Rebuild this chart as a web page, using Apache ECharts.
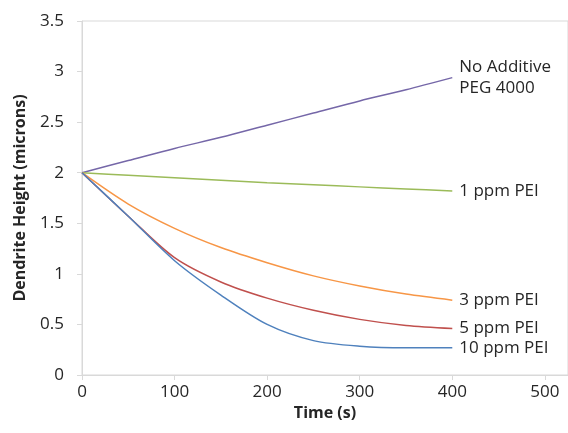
<!DOCTYPE html>
<html>
<head>
<meta charset="utf-8">
<script src="https://cdn.jsdelivr.net/npm/echarts@6/dist/echarts.min.js"></script>
<style>
  html, body { margin: 0; padding: 0; background: #fff; }
  #chart { width: 568px; height: 433px; }
</style>
</head>
<body>
<div id="chart"></div>
<script>
// time points (s)
var times = [0, 50, 100, 150, 200, 250, 300, 350, 400];
// dendrite heights (microns)
var noAdditive = [2, 2.12, 2.24, 2.35, 2.47, 2.59, 2.71, 2.82, 2.94];
var ppm1 = [2, 1.975, 1.95, 1.925, 1.9, 1.88, 1.86, 1.84, 1.82];
var ppm3 = [2, 1.69, 1.45, 1.26, 1.11, 0.98, 0.88, 0.80, 0.74];
var ppm5 = [2, 1.57, 1.16, 0.92, 0.76, 0.64, 0.55, 0.49, 0.46];
var ppm10 = [2, 1.57, 1.13, 0.79, 0.50, 0.34, 0.285, 0.27, 0.27];
var names = ['No Additive\nPEG 4000', '1 ppm PEI', '3 ppm PEI', '5 ppm PEI', '10 ppm PEI'];
var colors = ['#7567a8', '#9bbb59', '#f79646', '#c0504d', '#4f81bd'];

var pairs = function (vals) {
	var out = [];
	for (var i = 0; i < times.length; i++) {
		out.push([times[i], vals[i]]);
	}
	return out;
};

var allData = [noAdditive, ppm1, ppm3, ppm5, ppm10];
var series = [];
for (var s = 0; s < allData.length; s++) {
	series.push({
		name: names[s],
		type: 'line',
		smooth: 0.3,
		symbol: 'none',
		data: pairs(allData[s]),
		lineStyle: { color: colors[s], width: 1.5 },
		itemStyle: { color: colors[s] },
		endLabel: {
			show: true,
			formatter: names[s],
			color: '#262626',
			fontSize: 17,
			fontFamily: 'Open Sans',
			lineHeight: 21,
			distance: 7
		}
	});
}

var chart = echarts.init(document.getElementById('chart'));
chart.setOption({
	animation: false,
	textStyle: { fontFamily: 'Open Sans' },
	grid: {
		left: 82, right: 0, top: 21, bottom: 58,
		show: true, borderColor: '#d9d9d9', borderWidth: 1
	},
	xAxis: {
		type: 'value',
		min: 0, max: 525, interval: 100,
		name: 'Time (s)',
		nameLocation: 'middle',
		nameGap: 24,
		nameTextStyle: { fontSize: 16, fontWeight: 'bold', color: '#262626' },
		axisLine: { lineStyle: { color: '#d9d9d9' } },
		axisTick: { show: true, length: 5, lineStyle: { color: '#d9d9d9' } },
		axisLabel: { fontSize: 17, color: '#262626', margin: 9, showMaxLabel: false },
		splitLine: { show: false }
	},
	yAxis: {
		type: 'value',
		min: 0, max: 3.5, interval: 0.5,
		name: 'Dendrite Height (microns)',
		nameLocation: 'middle',
		nameGap: 54,
		nameTextStyle: { fontSize: 16, fontWeight: 'bold', color: '#262626' },
		axisLine: { show: true, lineStyle: { color: '#d9d9d9' } },
		axisTick: { show: true, length: 5, lineStyle: { color: '#d9d9d9' } },
		axisLabel: { fontSize: 17, color: '#262626', margin: 18 },
		splitLine: { show: false }
	},
	series: series
});
</script>
</body>
</html>
